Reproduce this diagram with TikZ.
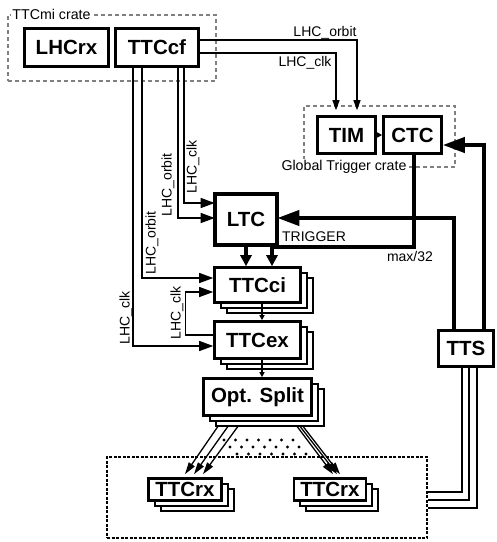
\documentclass[tikz,border=0pt]{standalone}
\usepackage{fontspec}
\setmainfont{Liberation Sans}
\usetikzlibrary{arrows.meta,shadows}
\begin{document}
\begin{tikzpicture}[x=1pt,y=-1pt,
  box/.style={draw=black,line width=2.6pt,fill=white,inner sep=0pt,font=\fontsize{20.5}{24}\selectfont\bfseries},
  stack/.style={box,
    copy shadow={shadow xshift=12pt,shadow yshift=-10pt,draw=black,fill=white,line width=2pt},
    copy shadow={shadow xshift=6pt,shadow yshift=-5pt,draw=black,fill=white,line width=2pt}},
  lbl/.style={font=\fontsize{14}{16}\selectfont,inner sep=0pt},
  cratelbl/.style={font=\fontsize{14.2}{16}\selectfont,inner sep=1pt,fill=white},
  crate/.style={draw=black!50,line width=1.1pt,dash pattern=on 4pt off 3pt,inner sep=0pt},
  thinl/.style={line width=1.3pt},
  thinarr/.style={thinl,-{Triangle[length=14pt,width=10pt]}},
  timarr/.style={thinl,-{Triangle[length=10pt,width=7pt]}},
  tinyarr/.style={thinl,-{Triangle[length=5pt,width=5pt]}},
  fanarr/.style={thinl,-{Triangle[length=12pt,width=7pt]}},
  thickl/.style={line width=4pt},
  bigarr/.style={thickl,-{Triangle[length=22pt,width=15pt]}},
  midarr/.style={thickl,-{Triangle[length=11pt,width=11pt]}},
  ttsl/.style={line width=2.6pt}
]
\useasboundingbox (0,0) rectangle (497,542);

% crates
\node[crate,minimum width=208pt,minimum height=66pt] (mi) at (112,48) {};
\node[cratelbl] (milbl) at (51.5,14) {TTCmi crate};
\node[crate,minimum width=151pt,minimum height=61pt] (gt) at (379.5,136.5) {};
\node[cratelbl] (gtlbl) at (344,167) {Global Trigger crate};

% boxes
\node[box,minimum width=84pt,minimum height=38pt] (LHCrx) at (66.5,47.5) {LHCrx};
\node[box,minimum width=83pt,minimum height=38pt] (TTCcf) at (157,47.5) {TTCcf};
\node[box,minimum width=58pt,minimum height=37pt] (TIM) at (346.5,135) {TIM};
\node[box,minimum width=58pt,minimum height=37pt] (CTC) at (412.5,135) {CTC};
\node[stack,minimum width=86pt,minimum height=35pt] (TTCci) at (257.5,285) {TTCci};
\node[stack,minimum width=86pt,minimum height=37pt] (TTCex) at (257.5,340) {TTCex};
\node[stack,minimum width=108pt,minimum height=37pt] (OptSplit) at (257.5,397) {Opt. Split};
\node[box,minimum width=55pt,minimum height=36pt] (TTS) at (466,348.5) {TTS};
\node[box,minimum width=60pt,minimum height=50pt] (LTC) at (246,219.5) {LTC};
\draw[line width=3pt] (LTC.north west) rectangle (LTC.south east);

% dotted region
\foreach \r/\xa in {440/224, 447/230, 454/237} {
  \foreach \i in {0,...,6} {\fill (\xa+\i*11.5,\r) circle (1.7pt);}
}

% receiver area
\node[draw,line width=2.4pt,dash pattern=on 3pt off 1.5pt,minimum width=320pt,minimum height=81pt] (net) at (267,497.5) {};
\node[stack,minimum width=73pt,minimum height=22pt] (TTCrxL) at (185,489.5) {TTCrx};
\node[stack,minimum width=72pt,minimum height=22pt] (TTCrxR) at (330,489.5) {TTCrx};

% clocks to TIM
\draw[timarr] ([yshift=7.5pt]TTCcf.east) -| ([xshift=10.5pt,yshift=5pt]TIM.north);
\draw[timarr] ([yshift=-5.5pt]TTCcf.east) -| ([xshift=-10.5pt,yshift=5pt]TIM.north);
\node[lbl] (l1) at (325,33) {LHC\_orbit};
\node[lbl] (l2) at (305,63) {LHC\_clk};
\draw[tinyarr] (TIM.east) -- (CTC.west);

% clocks down
\draw[thinarr] ([xshift=27pt]TTCcf.south) |- ([yshift=16.5pt]LTC.west);
\draw[thinarr] ([xshift=21pt]TTCcf.south) |- ([yshift=1.5pt]LTC.west);
\draw[thinarr] ([xshift=-15pt]TTCcf.south) |- ([yshift=7pt]TTCci.west);
\draw[thinarr] ([xshift=-24pt]TTCcf.south) |- ([yshift=-6pt]TTCex.west);
\draw[thinarr] ([yshift=5pt]TTCex.west) -- ++(-28,0) |- ([yshift=-7pt]TTCci.west);
\node[lbl,rotate=90] (l3) at (193,167) {LHC\_clk};
\node[lbl,rotate=90] (l4) at (168,185) {LHC\_orbit};
\node[lbl,rotate=90] (l5) at (152,243) {LHC\_orbit};
\node[lbl,rotate=90] (l6) at (126,318) {LHC\_clk};
\node[lbl,rotate=90] (l7) at (177,313) {LHC\_clk};

% trigger path
\draw[midarr] (LTC.south) -- (LTC.south |- TTCci.north);
\draw[midarr] ([xshift=1.5pt]CTC.south) -- ++(0,92.5) -| ([xshift=14.5pt]TTCci.north);
\node[lbl] (l8) at (314,237) {TRIGGER};
\node[lbl] (l9) at (410,256) {max/32};
\draw[bigarr] ([xshift=-12pt]TTS.north) |- ([yshift=1.5pt]LTC.east);
\draw[bigarr] ([xshift=18pt]TTS.north) |- ([yshift=-10pt]CTC.east);

% stack links
\draw[tinyarr] ([xshift=4.5pt]TTCci.south) -- ([xshift=4.5pt]TTCex.north);
\draw[tinyarr] ([xshift=4.5pt]TTCex.south) -- ([xshift=4.5pt]OptSplit.north);

% fan out
\draw[fanarr] ([xshift=-39.5pt,yshift=-9.5pt]OptSplit.south) -- ([xshift=0pt,yshift=3pt]TTCrxL.north);
\draw[fanarr] ([xshift=-29.5pt,yshift=-9.5pt]OptSplit.south) -- ([xshift=9pt,yshift=3pt]TTCrxL.north);
\draw[fanarr] ([xshift=-19.5pt,yshift=-9.5pt]OptSplit.south) -- ([xshift=18pt,yshift=3pt]TTCrxL.north);
\draw[fanarr] ([xshift=39.5pt,yshift=-9.5pt]OptSplit.south) -- ([xshift=3pt,yshift=3pt]TTCrxR.north);
\draw[fanarr] ([xshift=42.5pt,yshift=-9.5pt]OptSplit.south) -- ([xshift=7pt,yshift=3pt]TTCrxR.north);
\draw[fanarr] ([xshift=45.5pt,yshift=-9.5pt]OptSplit.south) -- ([xshift=10pt,yshift=3pt]TTCrxR.north);

% to TTS
\draw[ttsl] ([yshift=5.5pt]net.east) -| ([xshift=-4pt]TTS.south);
\draw[ttsl] ([yshift=-2.5pt]net.east) -| ([xshift=3pt]TTS.south);
\draw[ttsl] ([yshift=-10.5pt]net.east) -| ([xshift=11pt]TTS.south);
\end{tikzpicture}
\end{document}
